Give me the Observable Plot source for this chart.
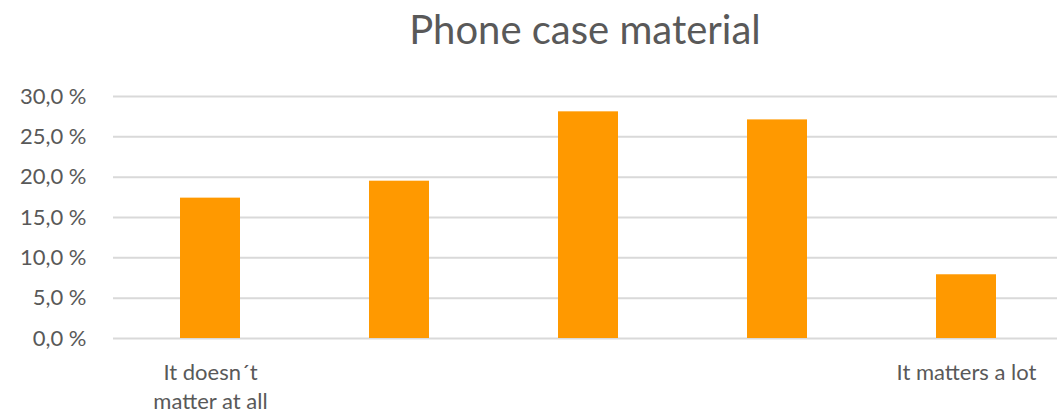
<!DOCTYPE html>
<html>
<head>
<meta charset="utf-8">
<script src="https://cdn.jsdelivr.net/npm/d3@7"></script>
<script src="https://cdn.jsdelivr.net/npm/@observablehq/plot@0.6"></script>
<style>
  html, body { margin: 0; padding: 0; background: #fff; }
  #title {
    width: 944px; margin-left: 113px; height: 60px;
    text-align: center; font-family: Lato, "Open Sans", sans-serif;
    font-size: 40px; color: #595959; line-height: 58px;
  }
  svg { display: block; }
</style>
</head>
<body>
<div id="title">Phone case material</div>
<div id="chart"></div>
<script>
const categories = [1, 2, 3, 4, 5];
const categoryLabels = ["It doesn´t\nmatter at all", "", "", "", "It matters a lot"];
const values = [17.4, 19.5, 28.1, 27.1, 7.9];
const yTicks = [0, 5, 10, 15, 20, 25, 30];

const data = categories.map((c, i) => ({cat: c, value: values[i]}));

const pad = 0.684;
const chart = Plot.plot({
  width: 1057,
  height: 358,
  marginTop: 36,
  marginBottom: 80,
  marginLeft: 113,
  marginRight: 0,
  style: {fontFamily: "Lato, 'Open Sans', sans-serif", fontSize: "22px", color: "#595959", background: "#fff"},
  x: {type: "band", domain: categories, range: [113, 1062], paddingInner: pad, paddingOuter: pad / 2},
  y: {domain: [0, 30]},
  marks: [
    Plot.ruleY(yTicks, {stroke: "#d9d9d9", strokeWidth: 2}),
    Plot.barY(data, {x: "cat", y: "value", fill: "#ff9900"}),
    Plot.axisY(yTicks, {tickSize: 0, tickPadding: 27, tickFormat: d => d.toFixed(1).replace(".", ",") + " %", fill: "#595959", fontSize: 22, label: null}),
    Plot.axisX({tickSize: 0, tickPadding: 20, tickFormat: d => categoryLabels[d - 1], fill: "#595959", fontSize: 22, lineHeight: 1.35, label: null})
  ]
});
document.getElementById("chart").appendChild(chart);
</script>
</body>
</html>
